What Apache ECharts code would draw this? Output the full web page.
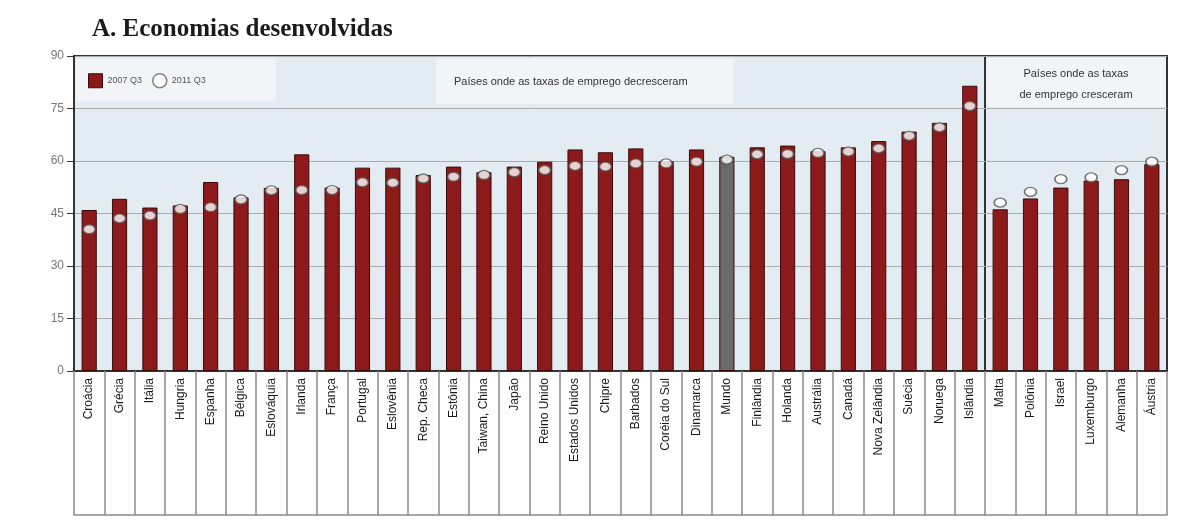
<!DOCTYPE html>
<html>
<head>
<meta charset="utf-8">
<script src="https://cdn.jsdelivr.net/npm/echarts@6/dist/echarts.min.js"></script>
<style>
  html, body { margin: 0; padding: 0; background: #fff; }
  #chart { width: 1187px; height: 528px; }
</style>
</head>
<body>
<div id="chart"></div>
<script>
// categorias: 30 países onde o emprego caiu + 6 onde cresceu
const countries = [
  'Croácia', 'Grécia', 'Itália', 'Hungria', 'Espanha', 'Bélgica', 'Eslováquia', 'Irlanda',
  'França', 'Portugal', 'Eslovênia', 'Rep. Checa', 'Estônia', 'Taiwan, China', 'Japão',
  'Reino Unido', 'Estados Unidos', 'Chipre', 'Barbados', 'Coréia do Sul', 'Dinamarca',
  'Mundo', 'Finlândia', 'Holanda', 'Austrália', 'Canadá', 'Nova Zelândia', 'Suécia',
  'Noruega', 'Islândia',
  'Malta', 'Polônia', 'Israel', 'Luxemburgo', 'Alemanha', 'Áustria'
]
const rate2007 = [
  46.0, 49.2, 46.7, 47.3, 54.0, 49.6, 52.3, 61.9, 52.4, 58.1, 58.1, 56.0, 58.4, 56.8, 58.4,
  59.8, 63.3, 62.5, 63.6, 59.9, 63.3, 61.2, 63.9, 64.4, 62.8, 63.9, 65.7, 68.4, 70.9, 81.5,
  46.2, 49.3, 52.4, 54.4, 54.8, 59.1
]
const rate2011 = [
  40.5, 43.6, 44.4, 46.3, 46.8, 49.0, 51.6, 51.7, 51.7, 53.9, 53.8, 55.0, 55.5, 56.0, 56.8,
  57.4, 58.6, 58.4, 59.3, 59.3, 59.8, 60.4, 61.9, 62.0, 62.3, 62.7, 63.6, 67.2, 69.6, 75.7,
  48.1, 51.2, 54.8, 55.3, 57.4, 59.8
]
const splitAt = 30
const highlight = 'Mundo'

const RED = '#8c1a1a'
const GRAY_BAR = '#6a6a6a'
const PLOT_BG = '#e3ecf3'
const BOX_BG = '#f2f5f8'

const leftCats = countries.slice(0, splitAt)
const rightCats = countries.slice(splitAt)

function barData(cats, vals) {
  return vals.map((v, i) => ({
    value: v,
    itemStyle: cats[i] === highlight ? { color: GRAY_BAR } : undefined
  }))
}

function catAxis(gridIndex, cats) {
  return {
    type: 'category',
    gridIndex,
    data: cats,
    boundaryGap: true,
    axisLine: { lineStyle: { color: '#333', width: 2 } },
    axisTick: { show: true, interval: 0, length: 144, lineStyle: { color: '#8a8a8a', width: 1.5 } },
    axisLabel: { interval: 0, rotate: 90, margin: 7, color: '#1a1a1a', fontSize: 12, fontFamily: 'Liberation Sans' }
  }
}

function frameAxis(gridIndex, cats) {
  // linha inferior da caixa dos rótulos
  return {
    type: 'category',
    gridIndex,
    data: cats,
    position: 'bottom',
    offset: 144,
    axisLine: { lineStyle: { color: '#8a8a8a', width: 1.5 } },
    axisTick: { show: false },
    axisLabel: { show: false }
  }
}

function valAxis(gridIndex, showLabels) {
  return {
    type: 'value',
    gridIndex,
    min: 0,
    max: 90,
    interval: 15,
    axisLine: { show: showLabels, lineStyle: { color: '#333', width: 2 } },
    axisTick: { show: showLabels, length: 7, lineStyle: { color: '#333' } },
    axisLabel: { show: showLabels, color: '#777', fontSize: 12, fontFamily: 'Liberation Sans', margin: 10 },
    splitLine: { lineStyle: { color: '#a9adb0', width: 1 } }
  }
}

const circleStyle = { color: '#fff', borderColor: '#555', borderWidth: 1.5 }

const chart = echarts.init(document.getElementById('chart'))
chart.setOption({
  animation: false,
  title: [
    {
      text: 'A. Economias desenvolvidas',
      left: 87, top: 12,
      textStyle: { fontFamily: 'Liberation Serif', fontWeight: 'bold', fontSize: 25, color: '#1a1a1a' }
    },
    {
      text: 'Países onde as taxas de emprego decresceram',
      left: 436, top: 59,
      padding: [17, 46, 17, 18],
      backgroundColor: BOX_BG,
      textStyle: { fontFamily: 'Liberation Sans', fontWeight: 'normal', fontSize: 11, color: '#333' }
    }
  ],
  graphic: [
    {
      type: 'rect', z: 10,
      shape: { x: 987, y: 58, width: 179, height: 49 },
      style: { fill: BOX_BG }
    },
    {
      type: 'text', z: 11,
      x: 1076, y: 63,
      style: {
        text: 'Países onde as taxas\nde emprego cresceram',
        align: 'center', verticalAlign: 'top',
        font: '11px "Liberation Sans"', lineHeight: 21, fill: '#333'
      }
    }
  ],
  legend: {
    left: 76, top: 59,
    padding: [14, 70, 13, 12],
    backgroundColor: BOX_BG,
    itemGap: 10,
    itemWidth: 14, itemHeight: 14,
    textStyle: { fontSize: 9, color: '#555', fontFamily: 'Liberation Sans' },
    data: [
      { name: '2007 Q3', icon: 'rect', itemStyle: { color: RED, borderColor: '#3a0a0a', borderWidth: 1 } },
      { name: '2011 Q3', icon: 'circle', itemStyle: { color: '#fff', borderColor: '#666', borderWidth: 1.5 } }
    ]
  },
  grid: [
    { left: 74, top: 56, width: 911, height: 315, show: true, backgroundColor: PLOT_BG, borderColor: '#333', borderWidth: 2 },
    { left: 985, top: 56, width: 182, height: 315, show: true, backgroundColor: PLOT_BG, borderColor: '#333', borderWidth: 2 }
  ],
  xAxis: [catAxis(0, leftCats), catAxis(1, rightCats), frameAxis(0, leftCats), frameAxis(1, rightCats)],
  yAxis: [valAxis(0, true), valAxis(1, false)],
  series: [
    {
      name: '2007 Q3', type: 'bar', xAxisIndex: 0, yAxisIndex: 0,
      barWidth: '50%',
      itemStyle: { color: RED, borderColor: '#3a0a0a', borderWidth: 1 },
      data: barData(leftCats, rate2007.slice(0, splitAt))
    },
    {
      name: '2007 Q3', type: 'bar', xAxisIndex: 1, yAxisIndex: 1,
      barWidth: '50%',
      itemStyle: { color: RED, borderColor: '#3a0a0a', borderWidth: 1 },
      data: barData(rightCats, rate2007.slice(splitAt))
    },
    {
      name: '2011 Q3', type: 'scatter', xAxisIndex: 0, yAxisIndex: 0,
      symbol: 'circle', symbolSize: [12, 9],
      itemStyle: circleStyle, z: 5,
      data: rate2011.slice(0, splitAt)
    },
    {
      name: '2011 Q3', type: 'scatter', xAxisIndex: 1, yAxisIndex: 1,
      symbol: 'circle', symbolSize: [12, 9],
      itemStyle: circleStyle, z: 5,
      data: rate2011.slice(splitAt)
    }
  ]
})
</script>
</body>
</html>
